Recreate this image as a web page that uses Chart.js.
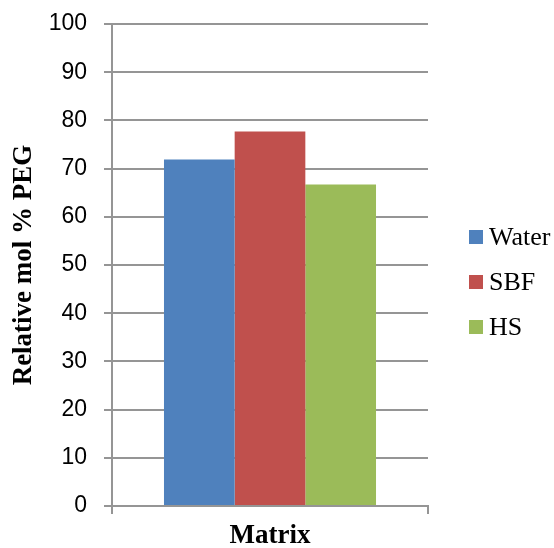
<!DOCTYPE html>
<html>
<head>
<meta charset="utf-8">
<script src="https://cdn.jsdelivr.net/npm/chart.js@4/dist/chart.umd.min.js"></script>
<style>
  html, body { margin: 0; padding: 0; background: #fff; }
  #wrap { width: 554px; height: 548px; }
</style>
</head>
<body>
<div id="wrap"><canvas id="pegChart" width="554" height="548"></canvas></div>
<script>
const categories = ["Matrix"];
const seriesNames = ["Water", "SBF", "HS"];
const waterValues = [71.9];
const sbfValues = [77.7];
const hsValues = [66.7];
const yMin = 0;
const yMax = 100;
const yStep = 10;

const seriesColors = ["#4F81BD", "#C0504D", "#9BBB59"];
const gridColor = "#959595";
const serif = "'Liberation Serif', 'Times New Roman', serif";

// legend to the right of the plot: square swatch + series name per dataset
const sideLegend = {
    id: "sideLegend",
    afterDraw(chart) {
        const { ctx, chartArea } = chart;
        const x = chartArea.right + 41;
        const midY = (chartArea.top + chartArea.bottom) / 2 + 17;
        const rowGap = 45;
        const count = chart.data.datasets.length;
        ctx.save();
        ctx.font = "26px " + serif;
        ctx.textBaseline = "middle";
        ctx.textAlign = "left";
        chart.data.datasets.forEach((ds, i) => {
            const y = midY + (i - (count - 1) / 2) * rowGap;
            ctx.fillStyle = ds.backgroundColor;
            ctx.fillRect(x, y - 7, 14, 14);
            ctx.fillStyle = "#000";
            ctx.fillText(ds.label, x + 20, y + 1);
        });
        ctx.restore();
    }
};

const chartContext = document.getElementById("pegChart").getContext("2d");

const pegChart = new Chart(chartContext, {
    type: "bar",
    data: {
        labels: categories,
        datasets: [
            { label: seriesNames[0], data: waterValues, backgroundColor: seriesColors[0] },
            { label: seriesNames[1], data: sbfValues, backgroundColor: seriesColors[1] },
            { label: seriesNames[2], data: hsValues, backgroundColor: seriesColors[2] }
        ]
    },
    options: {
        responsive: false,
        animation: false,
        events: [],
        layout: { padding: { top: 15, left: 0, right: 126, bottom: 0 } },
        datasets: {
            bar: { categoryPercentage: 0.671, barPercentage: 1.0, borderWidth: 0 }
        },
        plugins: {
            tooltip: { enabled: false },
            legend: { display: false }
        },
        scales: {
            x: {
                grid: {
                    display: true,
                    drawOnChartArea: false,
                    drawTicks: true,
                    tickLength: 8,
                    color: gridColor,
                    lineWidth: 2
                },
                border: { display: true, color: gridColor, width: 2 },
                ticks: { display: false },
                title: {
                    display: true,
                    text: "Matrix",
                    color: "#000",
                    font: { family: serif, size: 27, weight: "bold", lineHeight: 1 },
                    padding: { top: 0, bottom: -2 }
                },
                afterFit(scale) { scale.height = 42; }
            },
            y: {
                min: yMin,
                max: yMax,
                ticks: {
                    stepSize: yStep,
                    autoSkip: false,
                    padding: 17,
                    color: "#000",
                    font: { family: "'Liberation Sans', Arial, sans-serif", size: 23, lineHeight: 0.61 }
                },
                grid: { color: gridColor, lineWidth: 2, tickLength: 8 },
                border: { display: true, color: gridColor, width: 2 },
                title: {
                    display: true,
                    text: "Relative mol % PEG",
                    color: "#000",
                    font: { family: serif, size: 27, weight: "bold", lineHeight: 1 },
                    padding: { top: 11, bottom: 0 }
                },
                afterFit(scale) { scale.width = 112; }
            }
        }
    },
    plugins: [sideLegend]
});
</script>
</body>
</html>
